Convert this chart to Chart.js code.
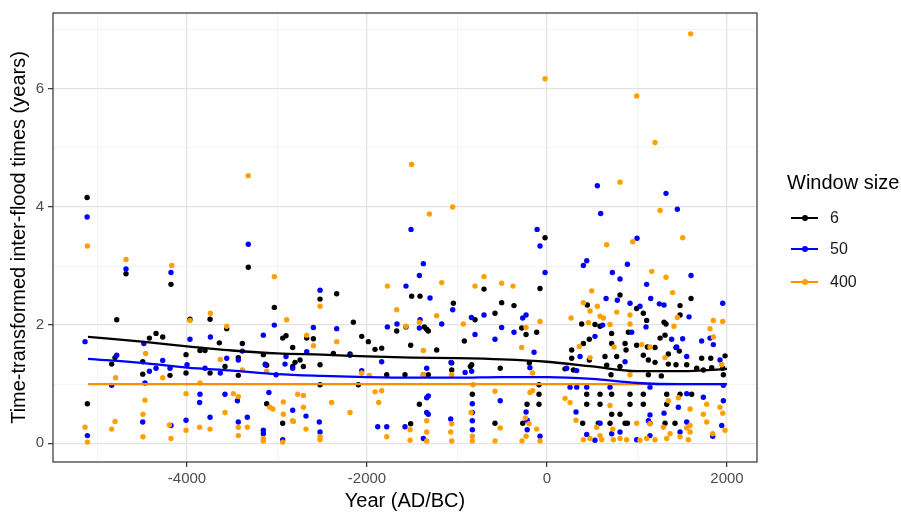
<!DOCTYPE html>
<html>
<head>
<meta charset="utf-8">
<script src="https://cdn.jsdelivr.net/npm/chart.js@4.4.1/dist/chart.umd.min.js"></script>
<style>
  html, body { margin: 0; padding: 0; background: #fff; }
  #wrap { position: relative; width: 901px; height: 515px; font-family: "Liberation Sans", Arial, sans-serif; }
  #floodChart { position: absolute; left: 0; top: 0; }
  .lg-title { position: absolute; left: 787px; top: 172px; font-size: 20px; line-height: 20px; color: #000; white-space: nowrap; }
  .lg-item { position: absolute; left: 791px; height: 20px; display: flex; align-items: center; }
  .lg-key { position: relative; width: 27px; height: 20px; }
  .lg-key .ln { position: absolute; left: 0; right: 0; top: 9px; height: 2.4px; }
  .lg-key .dot { position: absolute; left: 10.5px; top: 7.2px; width: 6px; height: 6px; border-radius: 50%; }
  .lg-label { margin-left: 12px; font-size: 16px; color: #1a1a1a; }
</style>
</head>
<body>
<div id="wrap">
  <canvas id="floodChart" width="901" height="515"></canvas>
  <div class="lg-title">Window size</div>
  <div id="legend"></div>
</div>
<script>
// axis ticks
const xTicks = [-5000, -4000, -3000, -2000, -1000, 0, 1000, 2000];
const yTicks = [0, 1, 2, 3, 4, 5, 6, 7];

// legend / series names
const seriesNames = ['6', '50', '400'];

// fitted smooth curves
const smoothYears = [-5100, -4500, -4000, -3500, -3000, -2500, -2000, -1500, -1000, -500, 0, 500, 1000, 1500, 2000];
const smooth6   = [1.80, 1.72, 1.64, 1.57, 1.52, 1.50, 1.47, 1.45, 1.44, 1.42, 1.38, 1.30, 1.22, 1.22, 1.26];
const smooth50  = [1.43, 1.36, 1.28, 1.23, 1.17, 1.14, 1.12, 1.11, 1.11, 1.12, 1.12, 1.09, 1.02, 1.00, 1.00];
const smooth400 = [1.00, 1.00, 1.00, 1.00, 1.00, 1.00, 1.00, 1.00, 1.00, 1.00, 1.00, 1.00, 1.00, 1.00, 1.00];

// window size 6 : [year, time-transformed inter-flood time]
const pts6 = [
  [-5110,4.16],[-5107,0.67],[-4837,1.34],[-4800,1.45],[-4781,2.09],[-4678,2.87],
  [-4492,1.17],[-4492,1.38],[-4418,1.78],[-4344,1.86],[-4270,1.8],[-4189,1.15],
  [-4178,2.69],[-4011,1.5],[-4011,1.19],[-3967,2.1],[-3856,1.57],[-3800,1.57],
  [-3744,2.1],[-3744,1.19],[-3641,1.7],[-3578,1.3],[-3559,1.94],[-3430,1.15],
  [-3430,1.45],[-3385,1.69],[-3319,2.98],[-3152,1.5],[-3130,1.34],[-3115,1.32],
  [-3115,0.67],[-3030,2.3],[-2937,1.78],[-2900,1.82],[-2937,0.34],[-2826,1.62],
  [-2826,1.3],[-2800,1.37],[-2744,1.41],[-2707,1.3],[-2670,1.78],[-2596,1.77],
  [-2522,2.44],[-2522,1.33],[-2522,0.99],[-2374,1.52],[-2337,2.53],[-2189,1.51],
  [-2152,2.05],[-2096,0.99],[-2059,1.81],[-1985,1.72],[-1911,1.59],[-1837,1.61],
  [-1781,1.16],[-1670,1.9],[-1578,1.16],[-1567,1.97],[-1515,1.66],[-1515,0.33],
  [-1504,2.49],[-1411,2.49],[-1418,0.66],[-1363,1.97],[-1374,1.16],[-1337,1.93],
  [-1319,1.9],[-1319,1.16],[-1226,1.58],[-1059,1.24],[-1059,1.36],[-1041,2.37],
  [-919,1.73],[-852,1.3],[-837,1.33],[-830,0.83],[-800,2.09],[-700,2.61],
  [-578,2.2],[-578,0.34],[-520,1.27],[-504,2.38],[-367,2.33],[-281,1.95],
  [-233,1.84],[-270,0.34],[-222,0.66],[-196,1.36],[-115,1.88],[-78,2.62],
  [-89,0.99],[-89,0.83],[-89,0.66],[-22,3.48],
  [811,2.51],[448,2.34],[996,2.28],[1478,2.33],[1600,2.45],[1070,2.2],[1107,2.08],
  [1300,2.05],[1322,2.02],[1478,2.17],[385,2.02],[533,2.01],[589,1.98],[718,1.86],
  [904,1.88],[1256,1.78],[1311,1.83],[404,1.69],[274,1.58],[470,1.76],[718,1.69],
  [867,1.69],[878,1.58],[996,1.66],[1115,1.63],[1200,1.62],[1348,1.51],[1433,1.62],
  [1470,1.56],[1718,1.44],[1819,1.44],[1978,1.48],[274,1.44],[470,1.41],[644,1.47],
  [774,1.47],[1070,1.49],[1126,1.41],[1200,1.37],[1348,1.34],[1433,1.33],[1552,1.33],
  [1663,1.27],[1737,1.24],[1830,1.28],[1952,1.27],[663,1.32],[811,1.3],[200,1.26],
  [293,1.24],[711,1.16],[1126,1.16],[1270,1.14],[1959,1.16],[441,0.83],[589,0.83],
  [718,0.83],[922,0.83],[1070,0.83],[1330,0.83],[1478,0.83],[1607,0.83],[441,0.66],
  [589,0.66],[922,0.66],[1070,0.66],[1330,0.66],[718,0.49],[811,0.49],[396,0.34],
  [570,0.34],[700,0.34],[867,0.34],[893,0.34],[1144,0.34],[1311,0.34],[1422,0.34]
];

// window size 50
const pts50 = [
  [-5110,3.83],[-5133,1.72],[-5107,0.13],[-4837,0.98],[-4781,1.49],[-4678,2.95],
  [-4492,0.36],[-4467,1.02],[-4480,1.69],[-4418,1.22],[-4344,1.27],[-4270,1.4],
  [-4189,1.27],[-4178,2.89],[-4178,0.3],[-4011,0.39],[-4000,1.33],[-3967,1.76],
  [-3856,0.83],[-3860,0.69],[-3800,1.27],[-3744,0.44],[-3740,1.8],[-3630,1.19],
  [-3559,1.44],[-3578,0.83],[-3440,0.72],[-3430,0.36],[-3430,1.41],[-3385,1.56],
  [-3330,0.44],[-3319,3.37],[-3152,1.83],[-3152,0.22],[-3152,0.16],[-3130,1.33],
  [-3090,0.86],[-3030,2.0],[-3010,1.16],[-2900,1.47],[-2911,1.34],[-2937,0.06],
  [-2826,0.56],[-2826,1.27],
  [-2678,0.46],[-2670,1.55],[-2596,1.96],[-2530,0.36],[-2522,2.59],[-2522,0.19],
  [-2337,1.94],[-2189,1.49],[-2059,1.23],[-1881,0.28],[-1837,1.38],[-1781,0.28],
  [-1774,1.97],[-1667,2.02],[-1578,0.28],[-1567,2.66],[-1511,3.62],[-1418,2.84],
  [-1411,2.09],[-1418,1.95],[-1374,3.04],[-1374,0.08],[-1337,1.27],[-1337,0.77],
  [-1319,0.8],[-1337,0.52],[-1319,0.49],[-1300,2.46],[-1170,2.02],[-1070,0.41],
  [-1067,1.37],[-1048,2.26],[-910,1.2],[-840,2.13],[-837,1.22],[-830,0.67],
  [-830,0.52],[-830,0.38],[-830,0.23],[-800,1.84],[-700,2.17],[-578,1.76],
  [-520,0.72],[-504,1.96],[-367,1.88],[-270,2.12],[-233,2.17],[-233,0.53],
  [-220,0.39],[-220,0.23],[-190,1.28],[-144,1.54],[-110,3.62],[-78,3.34],
  [-78,0.12],[-22,2.89],
  [559,4.36],[596,3.89],[1322,4.23],[1448,3.96],[1000,3.47],[404,3.01],[441,3.09],
  [893,3.03],[726,2.89],[811,2.78],[1600,2.84],[1107,2.69],[656,2.45],[781,2.42],
  [922,2.37],[1152,2.45],[1033,2.32],[1248,2.36],[1300,2.34],[1952,2.37],[1578,2.14],
  [618,2.0],[941,1.88],[1100,1.97],[1385,1.76],[1441,1.63],[1507,1.77],[1718,1.73],
  [1811,1.78],[1848,1.67],[533,1.81],[1552,1.47],[1922,1.41],[367,1.47],[867,1.38],
  [219,1.27],[330,1.23],[256,0.95],[330,0.95],[441,0.95],[700,0.95],[1144,0.95],
  [1959,0.98],[1552,0.84],[1459,0.61],[1737,0.78],[1959,0.72],[322,0.53],[1144,0.48],
  [1300,0.51],[1941,0.3],[589,0.34],[1126,0.38],[1552,0.36],[441,0.15],[533,0.05],
  [718,0.16],[811,0.19],[996,0.06],[1144,0.13],[1478,0.19],[1841,0.12]
];

// window size 400
const pts400 = [
  [-22,6.17],[996,5.88],[1596,6.93],[1200,5.09],[811,4.42],[1256,3.94],[1507,3.48],
  [952,3.41],[663,3.36],[-1504,4.72],[-1048,4.0],[-1307,3.88],[-3320,4.53],
  [-5107,3.34],[-4678,3.11],[-4170,3.01],[-3030,2.82],[-2893,2.09],[-5133,0.27],
  [-5107,0.02],[-4837,0.24],[-4800,0.37],[-4794,1.11],[-4489,0.11],[-4489,0.49],
  [-4467,0.73],[-4460,1.52],[-4270,1.11],[-4178,0.08],[-4196,0.31],[-4011,0.84],
  [-4011,0.22],[-3967,2.08],[-3860,0.27],[-3856,1.02],[-3744,0.24],[-3740,2.2],
  [-3578,0.52],[-3559,1.98],[-3630,1.42],[-3485,0.84],[-3430,0.79],[-3430,0.27],
  [-3430,0.13],[-3385,1.24],[-3330,0.27],[-3152,0.08],[-3152,0.04],[-3115,1.22],
  [-3080,0.61],[-3045,0.58],[-2937,0.02],[-2930,0.49],[-2930,0.7],[-2826,0.38],
  [-2770,0.83],
  [-2818,0.37],[-2707,0.61],[-2707,0.81],[-2678,0.24],[-2670,1.83],[-2596,1.65],
  [-2522,2.32],[-2522,0.11],[-2522,0.06],[-2393,0.69],[-2337,1.72],[-2189,0.52],
  [-2059,1.19],[-1974,1.15],[-1911,0.87],[-1870,0.69],[-1837,0.89],[-1781,0.11],
  [-1774,2.66],[-1670,2.26],[-1567,1.98],[-1522,0.23],[-1522,0.05],[-1418,2.05],
  [-1374,1.57],[-1374,1.16],[-1337,0.38],[-1337,0.19],[-1337,0.04],[-1226,2.16],
  [-1170,2.72],[-1059,1.16],[-1059,0.33],[-1070,0.19],[-1059,0.04],[-930,2.02],
  [-844,0.52],[-830,0.12],[-830,0.04],[-822,0.99],[-800,2.66],[-700,2.82],
  [-578,0.88],[-578,0.04],[-520,0.26],[-504,2.71],[-378,2.66],[-281,1.62],
  [-278,0.04],[-240,0.43],[-233,1.96],[-233,0.12],[-200,0.33],[-190,0.86],
  [-160,1.19],[-160,0.89],[-115,0.24],[-78,2.06],[-78,0.04],
  [1163,2.91],[1322,2.81],[496,2.58],[1396,2.55],[404,2.38],[478,2.24],[559,2.32],
  [267,2.12],[589,2.15],[626,2.12],[774,2.22],[922,2.17],[1448,2.13],[1848,2.08],
  [1952,2.06],[459,2.04],[700,2.01],[922,2.02],[1411,1.98],[1811,1.94],[1848,1.8],
  [359,1.64],[744,1.63],[1052,1.67],[1144,1.63],[478,1.45],[1311,1.45],[1941,1.33],
  [922,1.16],[200,0.76],[256,0.69],[700,0.64],[1348,0.72],[1459,0.77],[1774,0.66],
  [1922,0.61],[322,0.39],[1144,0.33],[1589,0.58],[1737,0.49],[1952,0.51],[552,0.27],
  [730,0.24],[996,0.34],[1293,0.27],[1552,0.26],[1589,0.19],[1774,0.36],[1978,0.22],
  [404,0.06],[478,0.08],[589,0.13],[607,0.06],[737,0.06],[811,0.08],[885,0.06],
  [1033,0.05],[1107,0.08],[1200,0.06],[1330,0.08],[1367,0.16],[1478,0.11],[1570,0.06],
  [1841,0.16],[1589,0.3]
];

const pointColors = ['#000000', '#0000ff', '#ffa000'];
const lineColors  = ['#000000', '#0000ff', '#ff8c00'];

document.addEventListener('DOMContentLoaded', function() {
    const toXY = pairs => pairs.map(p => ({ x: p[0], y: p[1] }));
    const toLine = vals => smoothYears.map((yr, i) => ({ x: yr, y: vals[i] }));

    // ggplot style panel border on all four sides
    const panelBorder = {
        id: 'panelBorder',
        afterDraw(chart) {
            const { ctx, chartArea: a } = chart;
            ctx.save();
            ctx.strokeStyle = '#333333';
            ctx.lineWidth = 1.2;
            ctx.strokeRect(a.left, a.top, a.right - a.left, a.bottom - a.top);
            ctx.restore();
        }
    };

    const pointSet = (i, data, order) => ({
        label: seriesNames[i],
        data: toXY(data),
        backgroundColor: pointColors[i],
        borderWidth: 0,
        pointRadius: 2.7,
        showLine: false,
        order: order
    });
    const lineSet = (i, vals) => ({
        label: seriesNames[i] + ' fit',
        data: toLine(vals),
        borderColor: lineColors[i],
        borderWidth: 2.3,
        pointRadius: 0,
        showLine: true,
        cubicInterpolationMode: 'monotone',
        order: 0
    });

    const major = (v, step) => Math.abs(v % step) < 1e-6;

    new Chart(document.getElementById('floodChart'), {
        type: 'scatter',
        data: {
            datasets: [
                lineSet(0, smooth6),
                lineSet(1, smooth50),
                lineSet(2, smooth400),
                pointSet(2, pts400, 1),
                pointSet(1, pts50, 2),
                pointSet(0, pts6, 3)
            ]
        },
        options: {
            responsive: false,
            animation: false,
            layout: { padding: { top: 6, right: 144, left: 0, bottom: 0 } },
            plugins: {
                legend: { display: false },
                tooltip: { enabled: false }
            },
            scales: {
                x: {
                    type: 'linear',
                    min: -5489,
                    max: 2333,
                    afterBuildTicks: s => { s.ticks = xTicks.map(v => ({ value: v })); },
                    afterFit: s => { s.height = 53; },
                    ticks: {
                        autoSkip: false,
                        maxRotation: 0,
                        padding: 3,
                        color: '#4d4d4d',
                        font: { size: 15 },
                        callback: v => major(v, 2000) ? String(v) : ''
                    },
                    grid: {
                        color: c => major(c.tick.value, 2000) ? '#e3e3e3' : '#f1f1f1',
                        lineWidth: c => major(c.tick.value, 2000) ? 1.3 : 0.8,
                        tickLength: 5,
                        tickColor: c => major(c.tick.value, 2000) ? '#333333' : 'rgba(0,0,0,0)',
                        tickWidth: 1.2
                    },
                    border: { display: false },
                    title: {
                        display: true,
                        text: 'Year (AD/BC)',
                        color: '#000',
                        font: { size: 20 },
                        padding: { top: 0, bottom: 2 }
                    }
                },
                y: {
                    type: 'linear',
                    min: -0.317,
                    max: 7.283,
                    afterBuildTicks: s => { s.ticks = yTicks.map(v => ({ value: v })); },
                    afterFit: s => { s.width = 53; },
                    ticks: {
                        autoSkip: false,
                        padding: 4,
                        color: '#4d4d4d',
                        font: { size: 15 },
                        callback: v => major(v, 2) ? String(v) : ''
                    },
                    grid: {
                        color: c => major(c.tick.value, 2) ? '#e3e3e3' : '#f1f1f1',
                        lineWidth: c => major(c.tick.value, 2) ? 1.3 : 0.8,
                        tickLength: 5,
                        tickColor: c => major(c.tick.value, 2) ? '#333333' : 'rgba(0,0,0,0)',
                        tickWidth: 1.2
                    },
                    border: { display: false },
                    title: {
                        display: true,
                        text: 'Time-transformed inter-flood times (years)',
                        color: '#000',
                        font: { size: 20 },
                        padding: { top: 7, bottom: 0 }
                    }
                }
            }
        },
        plugins: [panelBorder]
    });

    // legend built from the series names
    const legendEl = document.getElementById('legend');
    const legendTops = [208, 239, 272];
    seriesNames.forEach((name, i) => {
        const item = document.createElement('div');
        item.className = 'lg-item';
        item.style.top = legendTops[i] + 'px';
        item.innerHTML = '<div class="lg-key"><div class="ln" style="background:' + lineColors[i] +
            '"></div><div class="dot" style="background:' + pointColors[i] + '"></div></div>' +
            '<span class="lg-label">' + name + '</span>';
        legendEl.appendChild(item);
    });
});
</script>
</body>
</html>
